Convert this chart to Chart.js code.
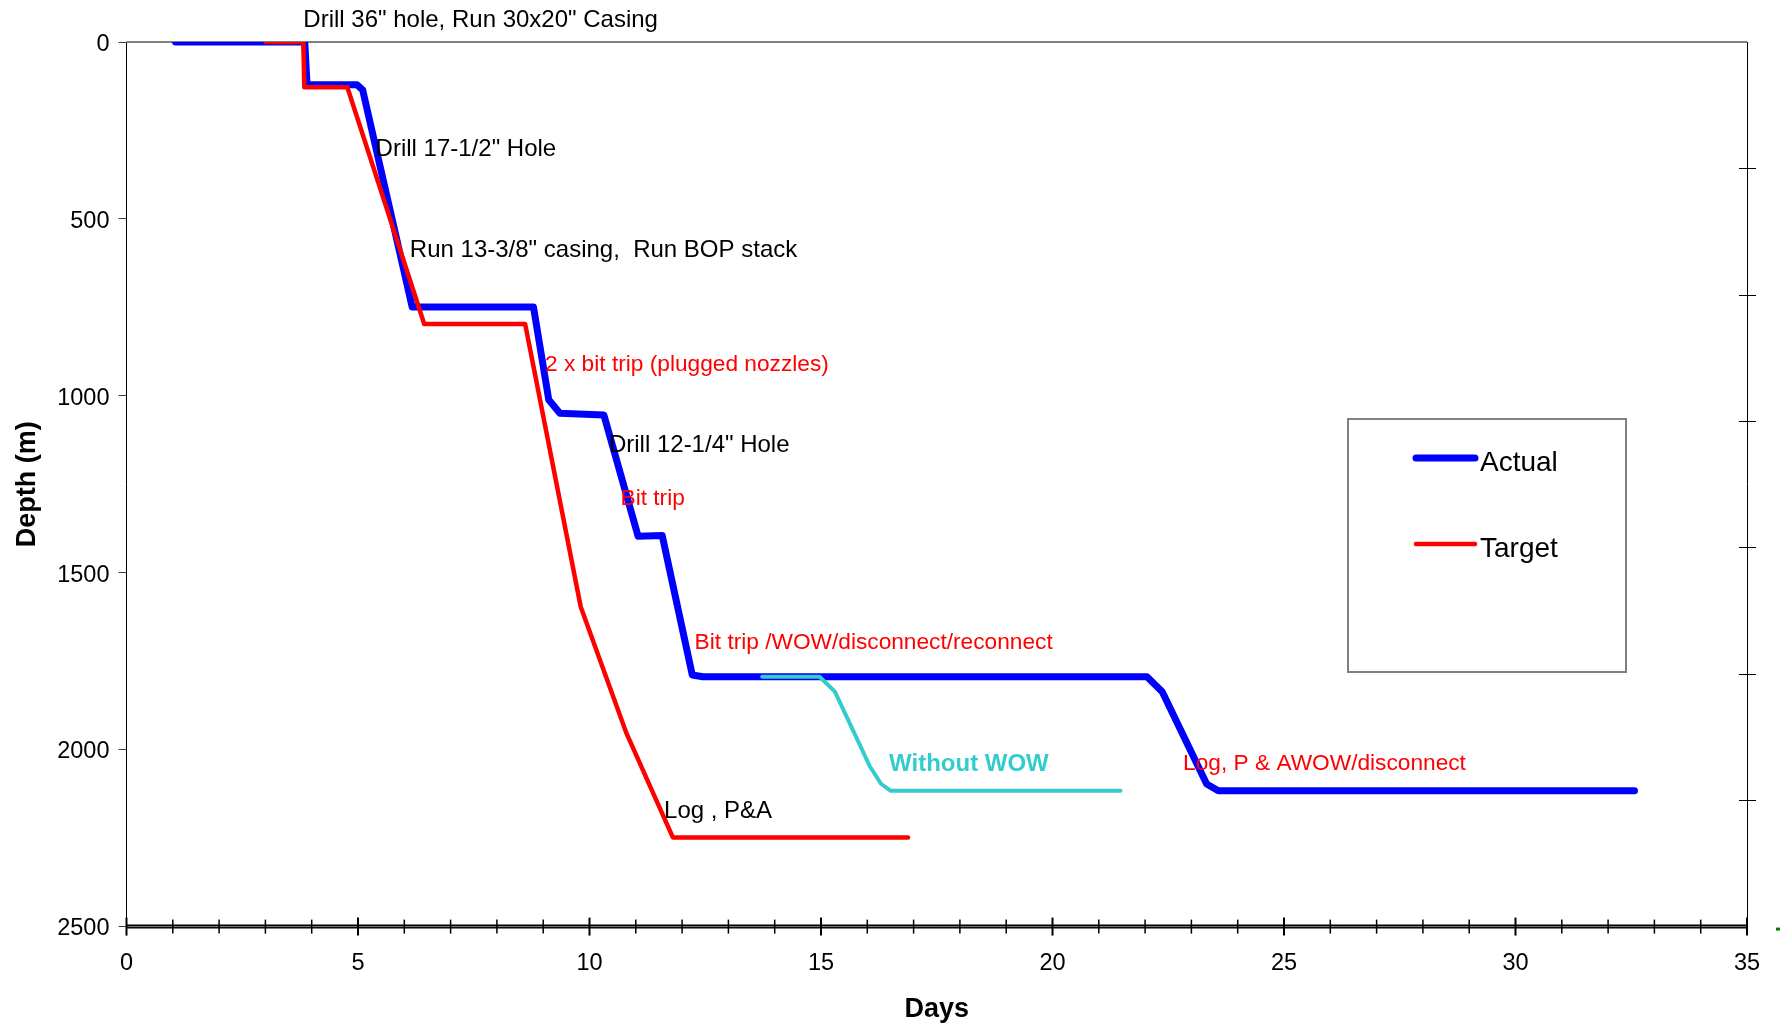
<!DOCTYPE html>
<html>
<head>
<meta charset="utf-8">
<title>Depth vs Days</title>
<script src="https://cdn.jsdelivr.net/npm/chart.js@4.4.1/dist/chart.umd.min.js"></script>
<style>
  html, body { margin: 0; padding: 0; background: #fff; }
  canvas { display: block; }
</style>
</head>
<body>
<canvas id="chart" width="1787" height="1028"></canvas>
<script>
// Depth (m) against elapsed days
const actualDays  = [1.06, 3.85, 3.90, 4.98, 5.10, 6.17, 8.79, 9.12, 9.36, 10.31, 11.05, 11.57, 12.22, 12.45, 22.04, 22.37, 23.33, 23.58, 32.57];
const actualDepth = [0, 0, 121, 121, 135, 749, 749, 1011, 1049, 1054, 1397, 1395, 1789, 1794, 1794, 1836, 2097, 2116, 2116];

const targetDays  = [3.01, 3.82, 3.84, 4.77, 6.43, 8.61, 9.81, 10.80, 11.80, 16.88];
const targetDepth = [0, 0, 128, 128, 797, 797, 1596, 1954, 2248, 2248];

const noWowDays  = [13.73, 14.97, 15.30, 16.05, 16.30, 16.50, 21.47];
const noWowDepth = [1794, 1794, 1836, 2046, 2097, 2116, 2116];

const dayTicks   = [0, 5, 10, 15, 20, 25, 30, 35];
const depthTicks = [0, 500, 1000, 1500, 2000, 2500];

// Annotations, anchored in data coordinates (day, depth)
const noteText = [
  'Drill 36" hole, Run 30x20" Casing',
  'Drill 17-1/2" Hole',
  'Run 13-3/8" casing,  Run BOP stack',
  '2 x bit trip (plugged nozzles)',
  'Drill 12-1/4" Hole',
  'Bit trip',
  'Bit trip /WOW/disconnect/reconnect',
  'Without WOW',
  'Log, P & AWOW/disconnect',
  'Log , P&A'
];
const noteDay   = [3.82, 5.38, 6.12, 9.04, 10.42, 10.67, 12.27, 16.47, 22.82, 11.61];
const noteDepth = [-61, 303, 588, 913, 1140, 1291, 1698, 2042, 2040, 2175];
const noteKind  = ['plan', 'plan', 'plan', 'event', 'plan', 'event', 'event', 'alt', 'event', 'plan'];

const FONT = "'Liberation Sans', Arial, sans-serif";
const BLUE = '#0000FF';
const RED = '#FF0000';
const CYAN = '#33CCCC';
const NOTE_STYLES = {
  plan:  { color: '#000000', font: `24px ${FONT}` },
  event: { color: RED, font: `22.7px ${FONT}` },
  alt:   { color: CYAN, font: `bold 24px ${FONT}` }
};

function toPoints(xs, ys) {
  return xs.map((x, i) => ({ x, y: ys[i] }));
}

function strokeLine(ctx, x1, y1, x2, y2) {
  ctx.beginPath();
  ctx.moveTo(x1, y1);
  ctx.lineTo(x2, y2);
  ctx.stroke();
}

const axesPlugin = {
  id: 'axesDecor',
  beforeDatasetsDraw(chart) {
    const { ctx, chartArea: a, scales: { x, y2 } } = chart;
    ctx.save();

    // top frame line at zero depth
    ctx.strokeStyle = '#808080';
    ctx.lineWidth = 2;
    strokeLine(ctx, a.left, a.top, a.right, a.top);

    // heavy bottom axis
    ctx.strokeStyle = '#000';
    ctx.lineWidth = 4;
    strokeLine(ctx, a.left, a.bottom, a.right, a.bottom);
    ctx.strokeStyle = '#808080';
    ctx.lineWidth = 1;
    strokeLine(ctx, a.left, a.bottom, a.right, a.bottom);

    // day ticks crossing the axis
    ctx.strokeStyle = '#000';
    for (let d = x.min; d <= x.max; d++) {
      const px = x.getPixelForValue(d);
      const major = d % 5 === 0;
      ctx.lineWidth = major ? 2 : 1.5;
      const h = major ? 9 : 7;
      strokeLine(ctx, px, a.bottom - h, px, a.bottom + h);
    }

    // secondary axis ticks
    ctx.lineWidth = 1;
    for (let v = y2.min + 1; v < y2.max; v++) {
      const py = Math.round(y2.getPixelForValue(v)) + 0.5;
      strokeLine(ctx, a.right - 8, py, a.right + 9, py);
    }

    // stray marker right of the axis end
    ctx.fillStyle = '#008000';
    ctx.fillRect(a.right + 29, a.bottom + 1, 4, 3);
    ctx.restore();
  },
  afterDatasetsDraw(chart) {
    const { ctx, scales: { x, y } } = chart;
    ctx.save();
    ctx.textAlign = 'left';
    ctx.textBaseline = 'middle';
    noteText.forEach((text, i) => {
      const style = NOTE_STYLES[noteKind[i]];
      ctx.fillStyle = style.color;
      ctx.font = style.font;
      ctx.fillText(text, x.getPixelForValue(noteDay[i]), y.getPixelForValue(noteDepth[i]));
    });

    // legend box inside the plot
    const box = { left: 1348, top: 419, width: 278, height: 253 };
    ctx.strokeStyle = '#808080';
    ctx.lineWidth = 2;
    ctx.strokeRect(box.left, box.top, box.width, box.height);

    const items = chart.data.datasets.filter(ds => ds.inLegend);
    ctx.font = `28px ${FONT}`;
    ctx.lineCap = 'round';
    items.forEach((ds, i) => {
      const ly = 458 + i * 86;
      ctx.strokeStyle = ds.borderColor;
      ctx.lineWidth = ds.borderWidth;
      strokeLine(ctx, 1416, ly, 1475, ly);
      ctx.fillStyle = '#000';
      ctx.fillText(ds.label, 1480, ly + 5);
    });
    ctx.restore();
  }
};

const lineStyle = {
  showLine: true,
  pointRadius: 0,
  borderJoinStyle: 'round',
  borderCapStyle: 'round',
  tension: 0
};

new Chart(document.getElementById('chart'), {
  type: 'scatter',
  data: {
    datasets: [
      { ...lineStyle, label: 'Actual', data: toPoints(actualDays, actualDepth), borderColor: BLUE, borderWidth: 7, order: 3, inLegend: true },
      { ...lineStyle, label: 'Target', data: toPoints(targetDays, targetDepth), borderColor: RED, borderWidth: 4.5, order: 2, inLegend: true },
      { ...lineStyle, label: 'Without WOW', data: toPoints(noWowDays, noWowDepth), borderColor: CYAN, borderWidth: 4, order: 1, inLegend: false }
    ]
  },
  options: {
    responsive: false,
    animation: false,
    devicePixelRatio: 1,
    layout: { padding: { top: 42, left: 0, right: 0, bottom: 0 } },
    plugins: {
      legend: { display: false },
      tooltip: { enabled: false }
    },
    scales: {
      x: {
        type: 'linear',
        min: 0,
        max: 35,
        afterBuildTicks: (s) => { s.ticks = dayTicks.map(v => ({ value: v })); },
        afterFit: (s) => { s.height = 101.4; },
        grid: { display: false, drawTicks: false },
        border: { display: false },
        ticks: { color: '#000', padding: 23, maxRotation: 0, font: { family: FONT, size: 23.5 } },
        title: { display: true, text: 'Days', color: '#000', padding: { top: 0, bottom: 2.2 }, font: { family: FONT, size: 27, weight: 'bold' } }
      },
      y: {
        type: 'linear',
        reverse: true,
        min: 0,
        max: 2500,
        afterBuildTicks: (s) => { s.ticks = depthTicks.map(v => ({ value: v })); },
        afterFit: (s) => { s.width = 126.5; },
        grid: { drawOnChartArea: false, drawTicks: true, tickLength: 8, color: '#404040' },
        border: { display: true, color: '#000', width: 1 },
        ticks: { color: '#000', padding: 9, labelOffset: 2.3, font: { family: FONT, size: 23.5 }, callback: (v) => String(v) },
        title: { display: true, text: 'Depth (m)', color: '#000', padding: { top: 11.5, bottom: 0 }, font: { family: FONT, size: 27, weight: 'bold' } }
      },
      y2: {
        type: 'linear',
        position: 'right',
        min: 0,
        max: 7,
        afterFit: (s) => { s.width = 40; },
        grid: { drawOnChartArea: false, drawTicks: false },
        border: { display: true, color: '#000', width: 1 },
        ticks: { display: false }
      }
    }
  },
  plugins: [axesPlugin]
});
</script>
</body>
</html>
